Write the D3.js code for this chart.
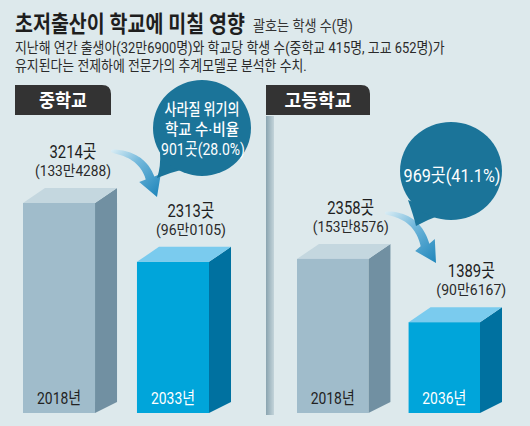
<!DOCTYPE html>
<html><head><meta charset="utf-8">
<script src="https://cdn.jsdelivr.net/npm/d3@7"></script>
<style>html,body{margin:0;padding:0;background:#dde9ec;}svg{display:block;}</style>
</head><body>
<svg id="c" width="530" height="426"></svg>
<script>
// ---- data ----
const panelTitles = ["중학교", "고등학교"];
const midYears = ["2018년", "2033년"];
const midSchools = [3214, 2313];
const midStudents = ["133만4288", "96만0105"];
const highYears = ["2018년", "2036년"];
const highSchools = [2358, 1389];
const highStudents = ["153만8576", "90만6167"];
const riskCounts = [901, 969];
const riskPcts = ["28.0", "41.1"];
const titleText = "초저출산이 학교에 미칠 영향";
const noteText = "괄호는 학생 수(명)";
const subLines = ["지난해 연간 출생아(32만6900명)와 학교당 학생 수(중학교 415명, 고교 652명)가",
                  "유지된다는 전제하에 전문가의 추계모델로 분석한 수치."];

// ---- layout ----
const FONT = "Roboto,'Noto Sans CJK KR',sans-serif";
const svg = d3.select("#c");
const defs = svg.append("defs");
svg.append("rect").attr("width", 530).attr("height", 426).attr("fill", "#dde9ec");

function txt(parent, o) {
  const t = parent.append("text")
    .attr("font-family", FONT).attr("font-size", o.size)
    .attr("font-weight", o.weight || 400).attr("fill", o.fill || "#222")
    .attr("text-anchor", o.anchor || "start").text(o.text);
  let sx = 1;
  if (o.len) { const w = t.node().getComputedTextLength(); if (w > 0) sx = o.len / w; }
  t.attr("transform", `translate(${o.x},${o.y}) scale(${sx},1)`);
  return t;
}

// title block
txt(svg, {x: 15, y: 32, text: titleText, size: 23, weight: 700, fill: "#1e1e1e", len: 230});
txt(svg, {x: 253, y: 31, text: noteText, size: 14.5, fill: "#333", len: 100});
txt(svg, {x: 15, y: 53, text: subLines[0], size: 14.5, fill: "#2a2a2a", len: 430});
txt(svg, {x: 15, y: 71, text: subLines[1], size: 14.5, fill: "#2a2a2a", len: 292});

// scale shared by both panels
const y = d3.scaleLinear().domain([0, 3214]).range([413, 203]);
const DX = 22, DY = 15; // 3D depth

// divider
const dg = defs.append("linearGradient").attr("id", "divg").attr("x1", 0).attr("x2", 1);
dg.append("stop").attr("offset", 0).attr("stop-color", "#8aa4b0");
dg.append("stop").attr("offset", 1).attr("stop-color", "#c3d4da");
svg.append("rect").attr("x", 266).attr("y", 116).attr("width", 8).attr("height", 299).attr("fill", "url(#divg)");

// panel header boxes
function header(x, w, label, len) {
  const h = 30, y0 = 85, r = 9;
  svg.append("path")
    .attr("d", `M${x},${y0} H${x + w - r} Q${x + w},${y0} ${x + w},${y0 + r} V${y0 + h} H${x} Z`)
    .attr("fill", "#333333");
  txt(svg, {x: x + w / 2, y: y0 + 22, text: label, size: 18.5, weight: 700, fill: "#fff", anchor: "middle", len: len});
}
header(15, 96, panelTitles[0], 48);
header(266, 104, panelTitles[1], 67);

const greyCol = {front: "#a0bccb", side: "#7190a2", top: "#c4d7df", text: "#222"};
const blueCol = {front: "#00a5da", side: "#0071a0", top: "#7acbee", text: "#fff"};

function bars(years, schools, students, range, pad, labelDx) {
  const x = d3.scaleBand().domain(years).range(range).paddingInner(pad).paddingOuter(0);
  const bw = x.bandwidth();
  years.forEach((yr, i) => {
    const c = i === 0 ? greyCol : blueCol;
    const x0 = x(yr), x1 = x0 + bw, yt = y(schools[i]), yb = y(0);
    svg.append("path").attr("d", `M${x1},${yt} L${x1 + DX},${yt - DY} V${yb - DY + 4} L${x1},${yb} Z`).attr("fill", c.side);
    svg.append("path").attr("d", `M${x0},${yt} L${x0 + DX},${yt - DY} H${x1 + DX} L${x1},${yt} Z`).attr("fill", c.top);
    svg.append("rect").attr("x", x0).attr("y", yt).attr("width", bw).attr("height", yb - yt).attr("fill", c.front);
    txt(svg, {x: x0 + bw / 2, y: yb - 9, text: yr, size: 17, fill: c.text, anchor: "middle", len: 44});
    const cx = x0 + bw / 2 + labelDx[i], backTop = yt - DY;
    const s = String(schools[i]) + "곳";
    txt(svg, {x: cx, y: backTop - 30, text: s, size: 18, fill: "#1e1e1e", anchor: "middle", len: 47});
    txt(svg, {x: cx, y: backTop - 12, text: "(" + students[i] + ")", size: 15, fill: "#2a2a2a", anchor: "middle", len: students[i].length > 7 ? 76 : 70});
  });
}
bars(midYears, midSchools, midStudents, [23, 209], 0.368, [14, 18]);
bars(highYears, highSchools, highStudents, [297, 480], 0.36, [18, 27]);

// curved tapered arrows
function arrow(id, p0, c, p2, tip, headW, maxW) {
  const g = defs.append("linearGradient").attr("id", id).attr("gradientUnits", "userSpaceOnUse")
    .attr("x1", p0[0]).attr("y1", p0[1]).attr("x2", tip[0]).attr("y2", tip[1]);
  g.append("stop").attr("offset", 0).attr("stop-color", "#d8ecf4");
  g.append("stop").attr("offset", 0.4).attr("stop-color", "#74b9dc");
  g.append("stop").attr("offset", 1).attr("stop-color", "#1f86bb");
  const N = 30, L = [], R = [];
  for (let k = 0; k <= N; k++) {
    const t = k / N;
    const bx = (1 - t) * (1 - t) * p0[0] + 2 * (1 - t) * t * c[0] + t * t * p2[0];
    const by = (1 - t) * (1 - t) * p0[1] + 2 * (1 - t) * t * c[1] + t * t * p2[1];
    const dx = 2 * (1 - t) * (c[0] - p0[0]) + 2 * t * (p2[0] - c[0]);
    const dy = 2 * (1 - t) * (c[1] - p0[1]) + 2 * t * (p2[1] - c[1]);
    const l = Math.hypot(dx, dy), nx = -dy / l, ny = dx / l;
    const w = 1 + (maxW / 2 - 1) * Math.sqrt(t);
    L.push([bx + nx * w, by + ny * w]); R.push([bx - nx * w, by - ny * w]);
  }
  const dx = tip[0] - p2[0], dy = tip[1] - p2[1], l = Math.hypot(dx, dy), nx = -dy / l, ny = dx / l;
  const pts = L.concat([[p2[0] + nx * headW / 2, p2[1] + ny * headW / 2], tip,
    [p2[0] - nx * headW / 2, p2[1] - ny * headW / 2]], R.reverse());
  svg.append("path").attr("d", "M" + pts.map(p => p.join(",")).join("L") + "Z").attr("fill", `url(#${id})`);
}
arrow("ag1", [111, 151], [142, 154], [150, 178], [157, 197], 23, 9);
arrow("ag2", [385, 213], [417, 215], [425, 245], [436, 263], 23, 9);

// bubbles
const BUB = "#1b7499";
function bubble(cx, cy, rx, ry, tail) {
  svg.append("path").attr("d", tail).attr("fill", BUB);
  svg.append("ellipse").attr("cx", cx).attr("cy", cy).attr("rx", rx).attr("ry", ry).attr("fill", BUB);
}
bubble(202, 128, 49, 48, "M160,152 Q161,167 157,178 Q172,172 188,168 Z");
txt(svg, {x: 202, y: 115, text: "사라질 위기의", size: 15.5, weight: 500, fill: "#fff", anchor: "middle", len: 75});
txt(svg, {x: 202, y: 135, text: "학교 수·비율", size: 15.5, weight: 500, fill: "#fff", anchor: "middle", len: 74});
txt(svg, {x: 203, y: 155, text: riskCounts[0] + "곳(" + riskPcts[0] + "%)", size: 17, fill: "#fff", anchor: "middle", len: 84});

bubble(451, 171, 51, 49, "M408,200 Q414,217 416,226 Q429,219 443,214 Z");
txt(svg, {x: 452, y: 182, text: riskCounts[1] + "곳(" + riskPcts[1] + "%)", size: 19, fill: "#fff", anchor: "middle", len: 97});
</script>
</body></html>
